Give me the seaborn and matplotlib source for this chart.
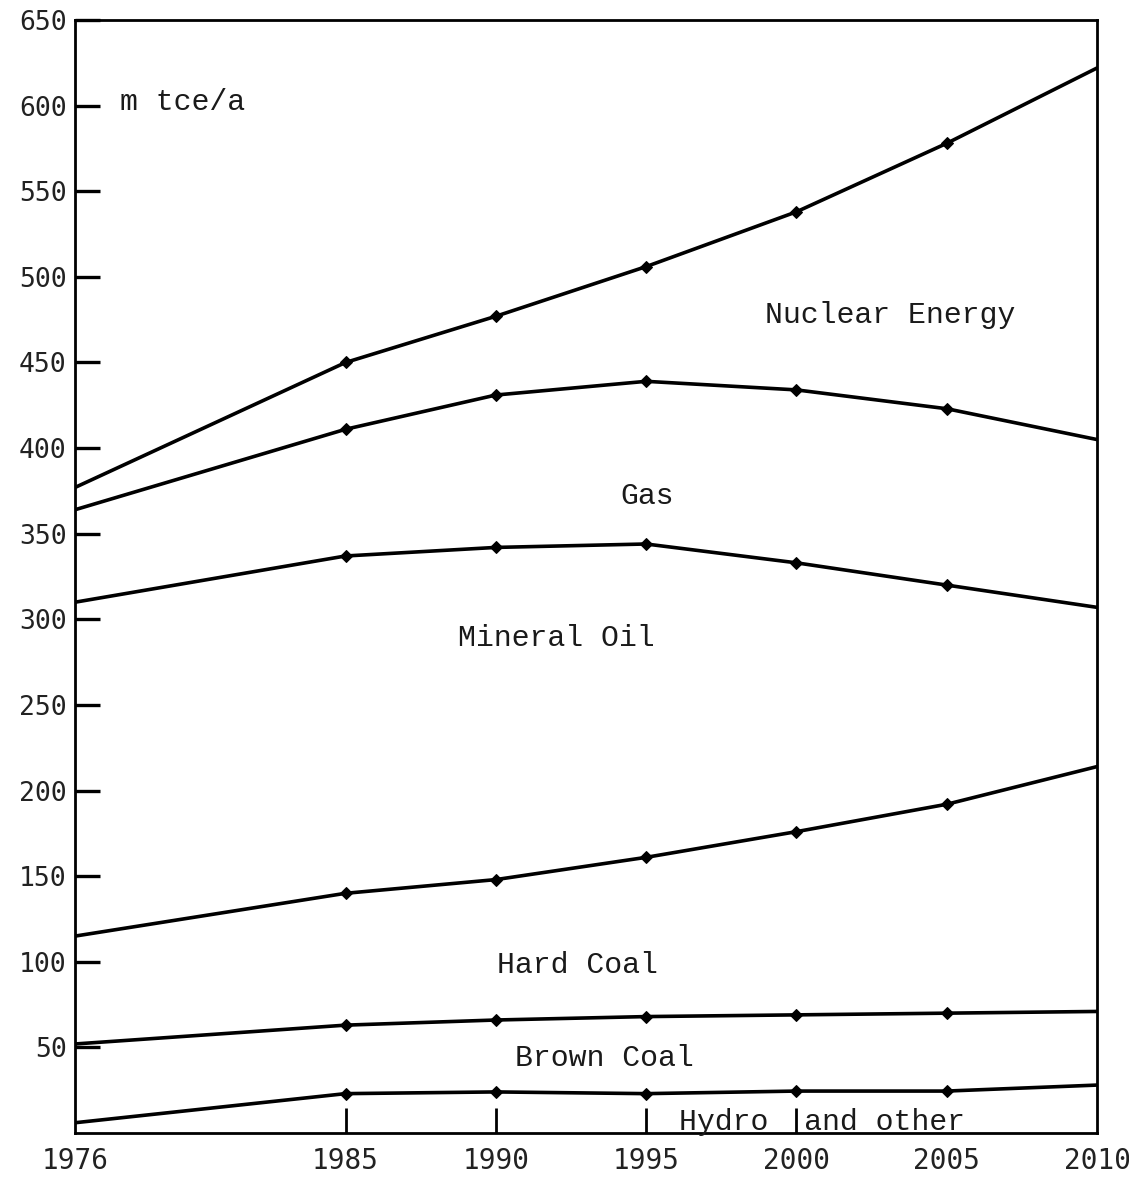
import matplotlib
matplotlib.use("Agg")
import matplotlib.pyplot as plt
import seaborn as sns
import pandas as pd

# ---- data (cumulative boundaries, m tce/a) ----
years = [1976, 1985, 1990, 1995, 2000, 2005, 2010]
total_top = [377, 450, 477, 506, 538, 578, 622]        # top of Nuclear Energy
gas_top = [364, 411, 431, 439, 434, 423, 405]          # top of Gas
oil_top = [310, 337, 342, 344, 333, 320, 307]          # top of Mineral Oil
hard_coal_top = [115, 140, 148, 161, 176, 192, 214]    # top of Hard Coal
brown_coal_top = [52, 63, 66, 68, 69, 70, 71]          # top of Brown Coal
hydro_top = [6, 23, 24, 23, 24.5, 24.5, 28]            # top of Hydro and other

series_names = ["total", "gas", "oil", "hard_coal", "brown_coal", "hydro"]
series_vals = [total_top, gas_top, oil_top, hard_coal_top, brown_coal_top, hydro_top]

area_labels = ["Nuclear Energy", "Gas", "Mineral Oil", "Hard Coal", "Brown Coal", "Hydro  and other"]
label_x = [2003.1, 1995.05, 1992.0, 1992.7, 1993.6, 1996.1]
label_y = [478, 372, 289, 98, 44, 6.5]
label_ha = ["center", "center", "center", "center", "center", "left"]

y_ticks = [50, 100, 150, 200, 250, 300, 350, 400, 450, 500, 550, 600, 650]
x_ticks = [1976, 1985, 1990, 1995, 2000, 2005, 2010]
x_tick_marks = [1985, 1990, 1995, 2000]
unit_label = "m tce/a"

rows = []
for name, vals in zip(series_names, series_vals):
    for yr, v in zip(years, vals):
        rows.append({"year": yr, "value": v, "series": name})
df = pd.DataFrame(rows)

sns.set_style("white")
plt.rcParams["font.family"] = ["DejaVu Sans Mono", "DejaVu Sans"]

fig = plt.figure(figsize=(11.29, 11.79), dpi=100)
ax = fig.add_axes([0.0664, 0.039, 0.9053, 0.944])

for name in series_names:
    sub = df[df["series"] == name]
    sns.lineplot(data=sub, x="year", y="value", ax=ax, color="black",
                 linewidth=2.6, marker="D", markersize=6.5, markevery=[1, 2, 3, 4, 5],
                 markeredgecolor="black", markerfacecolor="black",
                 estimator=None, sort=True, legend=False)

ax.set_xlim(1976, 2010)
ax.set_ylim(0, 650)
ax.set_xlabel("")
ax.set_ylabel("")

ax.set_yticks(y_ticks)
ax.set_yticklabels([str(t) for t in y_ticks], fontsize=19, color="#222222")
ax.set_xticks(x_ticks)
ax.set_xticklabels([str(t) for t in x_ticks], fontsize=20, color="#222222")

ax.tick_params(axis="y", left=True, right=False, direction="in", length=18, width=2.4,
               pad=6, color="black")
ax.tick_params(axis="x", bottom=True, top=False, direction="in", length=18, width=2.0,
               pad=10, color="black")
for tick, loc in zip(ax.xaxis.get_major_ticks(), x_ticks):
    tick.tick1line.set_visible(loc in x_tick_marks)
    tick.tick2line.set_visible(False)
for tick in ax.yaxis.get_major_ticks():
    tick.tick1line.set_visible(True)
    tick.tick2line.set_visible(False)

for sp in ax.spines.values():
    sp.set_visible(True)
    sp.set_color("black")
    sp.set_linewidth(2.0)
ax.grid(False)

mono = ["Liberation Mono", "DejaVu Sans Mono"]
for txt, lx, ly, ha in zip(area_labels, label_x, label_y, label_ha):
    ax.text(lx, ly, txt, ha=ha, va="center", fontsize=21.5, family=mono, color="#1a1a1a")

ax.text(1977.5, 602, unit_label, ha="left", va="center", fontsize=21.5, family=mono, color="#1a1a1a")

fig.savefig("out.png", dpi=100, facecolor="white")
